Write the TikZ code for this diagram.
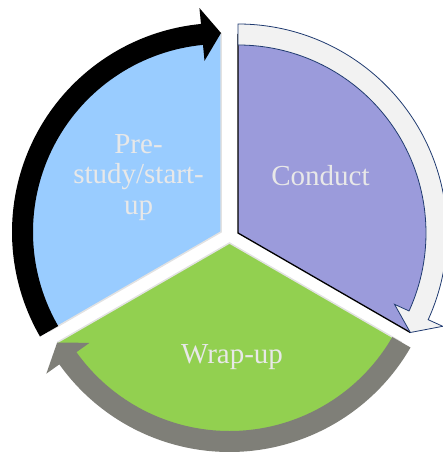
\documentclass[tikz,border=0pt]{standalone}
\usepackage{fontspec}
\setmainfont{Liberation Serif}
\definecolor{pieblue}{HTML}{99CCFF}
\definecolor{piepurple}{HTML}{9B9BDB}
\definecolor{piegreen}{HTML}{92D050}
\definecolor{arrowgray}{HTML}{7F7F78}
\definecolor{arrowlight}{HTML}{F2F2F2}
\definecolor{arrownavy}{HTML}{1F3A70}
\definecolor{edgegray}{HTML}{E2E2E2}
\definecolor{textgray}{HTML}{E8E8E8}
\newcommand\cycarrow[4]{%
  \pgfmathsetmacro\hb{#3+5.5}%
  \path[#4] ([shift={(#1)}]#2:188pt) arc[start angle=#2,end angle=\hb,radius=188pt]
    -- ([shift={(#1)}]\hb:172pt) -- ([shift={(#1)}]#3:199pt)
    -- ([shift={(#1)}]\hb:225pt) -- ([shift={(#1)}]\hb:209pt)
    arc[start angle=\hb,end angle=#2,radius=209pt] -- cycle;}
\tikzset{
  lbl/.style={font=\fontsize{29}{30.5}\selectfont, text=textgray, inner sep=0pt, align=center},
  sectoredge/.style={draw=edgegray, line width=1.5pt, line join=miter}
}
\begin{document}
\begin{tikzpicture}[x=1pt,y=1pt]
\useasboundingbox (0,0) rectangle (443,-452);
\clip (0,0) rectangle (443,-452);
\coordinate (V1) at (221,-232);
\coordinate (V2) at (238,-233);
\coordinate (V3) at (229.5,-243);
% sectors
\fill[pieblue] (V1) -- ([shift={(V1)}]90:199pt) arc[start angle=90,end angle=210,radius=199pt] -- cycle;
\draw[sectoredge] ([shift={(V1)}]90:199pt) -- (V1) -- ([shift={(V1)}]210:199pt);
\fill[piegreen] (V3) -- ([shift={(V3)}]210:199pt) arc[start angle=210,end angle=330,radius=199pt] -- cycle;
\draw[sectoredge] ([shift={(V3)}]210:199pt) -- (V3) -- ([shift={(V3)}]330:199pt);
\fill[piepurple] (V2) -- ([shift={(V2)}]90:199pt) arc[start angle=90,end angle=-30,radius=199pt] -- cycle;
\draw[black, line width=1.3pt] ([shift={(V2)}]90:199pt) -- (V2) -- ([shift={(V2)}]-30:199pt);
% arrows
\cycarrow{V1}{210}{90}{fill=black}
\cycarrow{V2}{90}{-30}{fill=arrowlight, draw=arrownavy, line width=0.8pt}
\cycarrow{V3}{-30}{-150}{fill=arrowgray}
% labels
\node[lbl, anchor=base] (t1) at (138.5,-214) {Pre-\\study/start-\\up};
\node[lbl, anchor=base] (t2) at (320.5,-185) {Conduct};
\node[lbl, anchor=base] (t3) at (232,-363) {Wrap-up};
\end{tikzpicture}
\end{document}
